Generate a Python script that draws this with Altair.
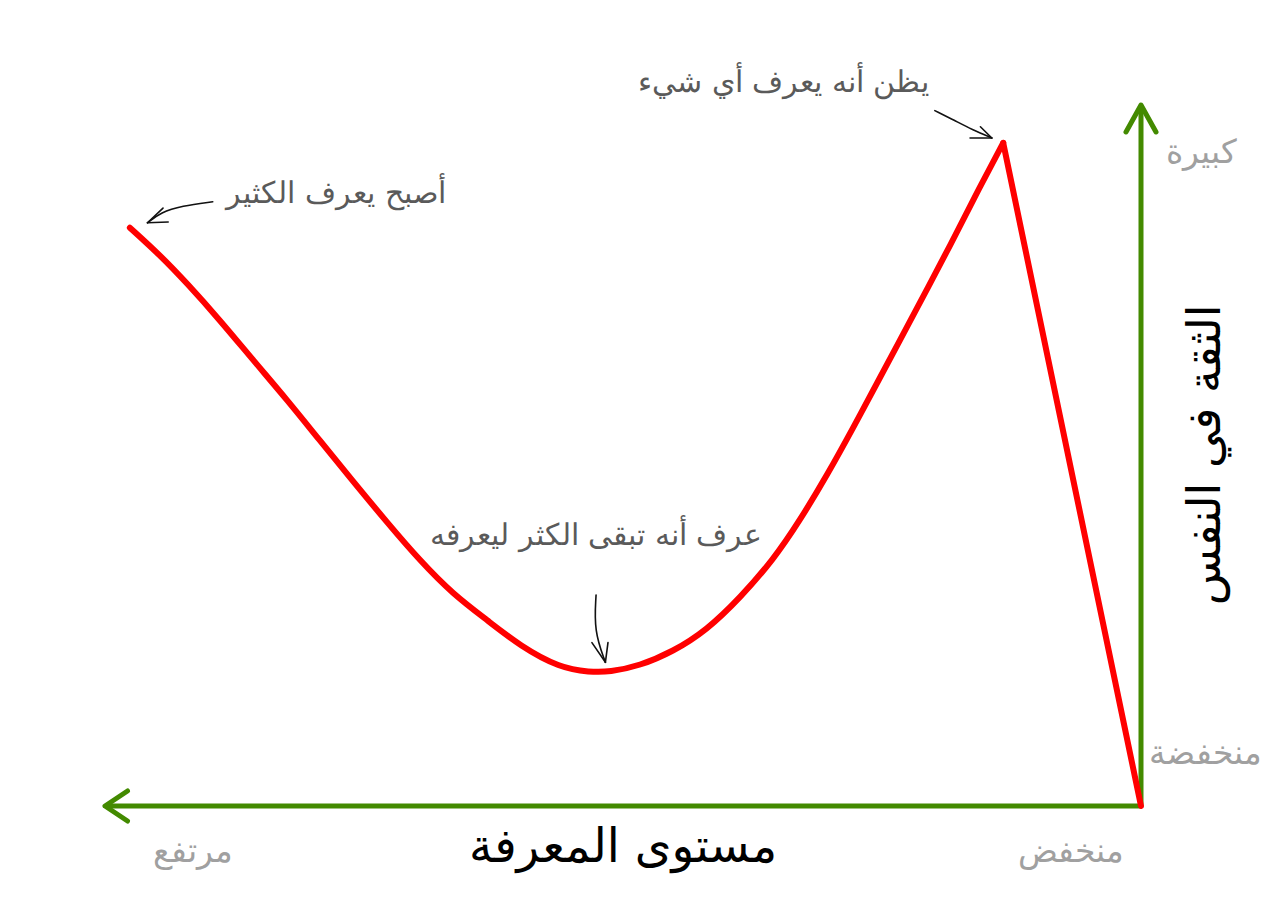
import altair as alt
import pandas as pd

# ---- values (knowledge 0-100 leftwards, confidence 0-100 upwards)
rise_knowledge = [0.0, 13.3]
rise_confidence = [0.0, 94.6]

curve_knowledge = [13.3, 16.2, 18.4, 20.7, 23.0, 25.2, 27.8, 30.3, 32.9, 35.5, 38.7,
                   41.9, 45.2, 48.4, 51.3, 53.2, 56.1, 59.9, 63.1, 66.4, 69.6, 72.8,
                   76.1, 79.3, 82.4, 85.7, 88.9, 92.1, 94.7, 97.6]
curve_confidence = [94.6, 86.5, 80.0, 73.6, 67.2, 61.1, 53.9, 47.2, 40.8, 35.1, 29.7,
                    25.1, 22.0, 20.0, 19.1, 19.1, 19.7, 22.8, 26.5, 30.2, 35.0, 40.5,
                    46.4, 52.2, 57.9, 63.6, 69.3, 74.6, 78.6, 82.5]

# hand-drawn pointer arrows (shaft + two head strokes each)
pointer_seg = ["p1", "p1", "p1", "p1", "p1h1", "p1h1", "p1h2", "p1h2",
               "p2", "p2", "p2", "p2", "p2h1", "p2h1", "p2h2", "p2h2",
               "p3", "p3", "p3", "p3h1", "p3h1", "p3h2", "p3h2"]
pointer_knowledge = [19.9, 18.0, 16.3, 14.4, 15.5, 14.4, 16.5, 14.4,
                     89.6, 92.6, 94.6, 95.9, 94.4, 95.9, 93.9, 95.9,
                     52.6, 52.8, 51.7, 53.0, 51.7, 51.45, 51.7]
pointer_confidence = [99.2, 97.8, 96.5, 95.3, 96.9, 95.3, 95.3, 95.3,
                      86.2, 85.6, 84.7, 83.2, 85.3, 83.2, 83.3, 83.2,
                      30.1, 25.0, 20.5, 23.3, 20.5, 23.3, 20.5]

annotation_text = ["يظن أنه يعرف أي شيء", "أصبح يعرف الكثير", "عرف أنه تبقى الكثر ليعرفه"]
annotation_knowledge = [34.5, 77.7, 52.6]
annotation_confidence = [101.9, 86.0, 37.2]

level_text = ["منخفض", "مرتفع", "كبيرة", "منخفضة"]
level_knowledge = [6.8, 91.5, -5.8, -6.2]
level_confidence = [-8.0, -8.0, 91.7, 6.0]

x_title = "مستوى المعرفة"
y_title = "الثقة في النفس"

GREEN = "#438a00"
RED = "#ff0000"
FONT = "DejaVu Sans"

xs = alt.Scale(domain=[0, 100], reverse=True, nice=False, zero=False)
ys = alt.Scale(domain=[0, 100], nice=False, zero=False)


def X(f="k"):
    return alt.X(f"{f}:Q", scale=xs, axis=None)


def Y(f="c"):
    return alt.Y(f"{f}:Q", scale=ys, axis=None)


# axes as arrows
axis_df = pd.DataFrame({"k": [0, 0], "k2": [100, 0], "c": [0, 0], "c2": [0, 100]})
axes = alt.Chart(axis_df).mark_rule(color=GREEN, strokeWidth=5).encode(
    x=X(), x2="k2:Q", y=Y(), y2="c2:Q")

heads_df = pd.DataFrame({"k": [100, 0], "c": [0, 100],
                         "shape": ["M 1.5 -1 L 0 0 L 1.5 1", "M -1 1.8 L 0 0 L 1 1.8"]})
heads = alt.Chart(heads_df).mark_point(
    filled=False, color=GREEN, strokeWidth=5, strokeCap="round", strokeJoin="round",
    opacity=1).encode(
    x=X(), y=Y(), shape=alt.Shape("shape:N", scale=None), size=alt.value(900))

rise_df = pd.DataFrame({"k": rise_knowledge, "c": rise_confidence})
rise = alt.Chart(rise_df).mark_line(color=RED, strokeWidth=6, strokeCap="round",
                                    interpolate="linear").encode(x=X(), y=Y())

curve_df = pd.DataFrame({"k": curve_knowledge, "c": curve_confidence})
curve = alt.Chart(curve_df).mark_line(color=RED, strokeWidth=6, strokeCap="round",
                                      interpolate="basis").encode(x=X(), y=Y())

ptr_df = pd.DataFrame({"seg": pointer_seg, "k": pointer_knowledge, "c": pointer_confidence,
                       "o": list(range(len(pointer_seg)))})
pointers = alt.Chart(ptr_df).mark_line(color="#111111", strokeWidth=1.6, strokeCap="round",
                                       interpolate="basis").encode(
    x=X(), y=Y(), detail="seg:N", order="o:Q")

ann_df = pd.DataFrame({"t": annotation_text, "k": annotation_knowledge, "c": annotation_confidence})
ann = alt.Chart(ann_df).mark_text(font=FONT, fontSize=30, fontWeight=300, color="#5a5a5a",
                                  align="center", baseline="alphabetic").encode(
    x=X(), y=Y(), text="t:N")

lvl_df = pd.DataFrame({"t": level_text, "k": level_knowledge, "c": level_confidence})
lvl = alt.Chart(lvl_df).mark_text(font=FONT, fontSize=33, fontWeight=200, color="#a0a0a0",
                                  align="center", baseline="alphabetic").encode(
    x=X(), y=Y(), text="t:N")

xt_df = pd.DataFrame({"t": [x_title], "k": [50.0], "c": [-8.0]})
xt = alt.Chart(xt_df).mark_text(font=FONT, fontSize=47, color="#000000",
                                align="center", baseline="alphabetic").encode(
    x=X(), y=Y(), text="t:N")

yt_df = pd.DataFrame({"t": [y_title], "k": [-7.6], "c": [50.1]})
yt = alt.Chart(yt_df).mark_text(font=FONT, fontSize=46, color="#000000", angle=270,
                                align="center", baseline="alphabetic").encode(
    x=X(), y=Y(), text="t:N")

chart = alt.layer(axes, rise, curve, heads, pointers, ann, lvl, xt, yt).properties(
    width=1036, height=701,
    autosize=alt.AutoSizeParams(type="none"),
    padding={"left": 97, "top": 97, "right": 120, "bottom": 90},
    background="white",
).configure_view(stroke=None)

chart.save("out.html", embed_options={"renderer": "svg", "actions": False})
